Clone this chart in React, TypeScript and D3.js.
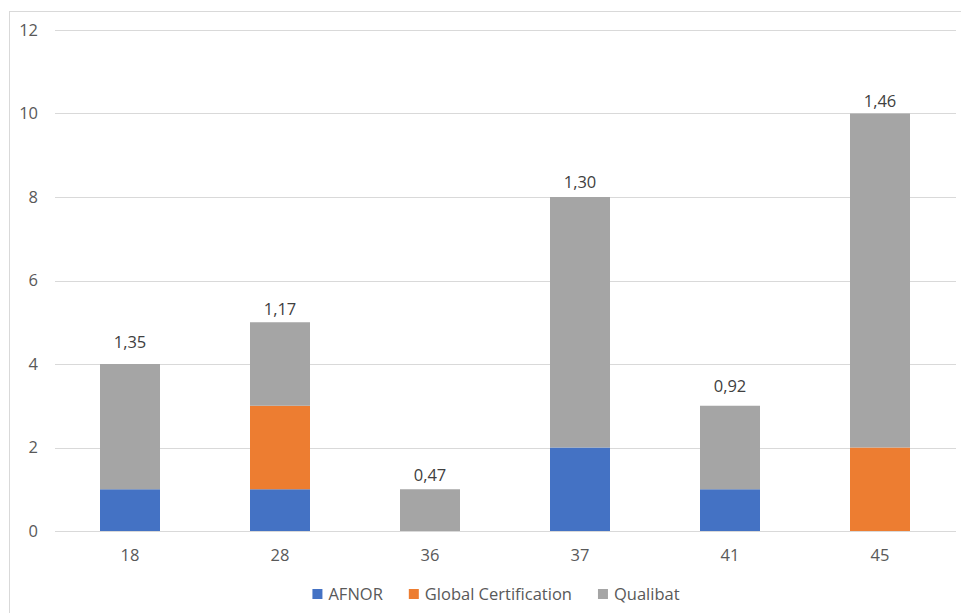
import React, { useEffect, useRef } from 'react';
import * as d3 from 'd3';

const categories: string[] = ['18', '28', '36', '37', '41', '45'];
const afnor: number[] = [1, 1, 0, 2, 1, 0];
const globalCert: number[] = [0, 2, 0, 0, 0, 2];
const qualibat: number[] = [3, 2, 1, 6, 2, 8];
const totalLabels: string[] = ['1,35', '1,17', '0,47', '1,30', '0,92', '1,46'];
// value on the y axis where each total label sits (hidden label series)
const labelLevels: number[] = [4.38, 5.17, 1.2, 8.22, 3.33, 10.16];
const seriesNames: string[] = ['AFNOR', 'Global Certification', 'Qualibat'];
const yTicks: number[] = [0, 2, 4, 6, 8, 10, 12];

const colors: string[] = ['#4472C4', '#ED7D31', '#A5A5A5'];
const width = 961;
const height = 613;
const font = "'Open Sans', sans-serif";
const fontSize = 16.5;

export default function App() {
  const ref = useRef<SVGSVGElement>(null);

  useEffect(() => {
    const svg = d3.select(ref.current);
    svg.selectAll('*').remove();

    // chart border
    svg.append('rect')
      .attr('x', 9.5).attr('y', 11.5)
      .attr('width', width).attr('height', height)
      .attr('fill', 'none').attr('stroke', '#D9D9D9');

    const xScale = d3.scaleBand<string>()
      .domain(categories)
      .range([55, 955])
      .paddingInner(0.6)
      .paddingOuter(0.3);

    const yScale = d3.scaleLinear()
      .domain([0, 12])
      .range([531, 30]);

    // gridlines
    svg.append('g')
      .selectAll('line')
      .data(yTicks)
      .enter()
      .append('line')
      .attr('x1', 55).attr('x2', 956)
      .attr('y1', (d: number) => Math.round(yScale(d)) + 0.5)
      .attr('y2', (d: number) => Math.round(yScale(d)) + 0.5)
      .attr('stroke', '#D9D9D9')
      .attr('stroke-width', 1);

    // y labels
    svg.append('g')
      .selectAll('text')
      .data(yTicks)
      .enter()
      .append('text')
      .attr('x', 38)
      .attr('y', (d: number) => yScale(d))
      .attr('dy', '0.35em')
      .attr('text-anchor', 'end')
      .attr('font-family', font)
      .attr('font-size', fontSize)
      .attr('fill', '#595959')
      .text((d: number) => d);

    // stacked bars
    const table = categories.map((c, i) => ({
      cat: c,
      AFNOR: afnor[i],
      'Global Certification': globalCert[i],
      Qualibat: qualibat[i],
    }));
    const stack = d3.stack<any>().keys(seriesNames)(table);

    svg.append('g')
      .selectAll('g')
      .data(stack)
      .enter()
      .append('g')
      .attr('fill', (d: any, i: number) => colors[i])
      .selectAll('rect')
      .data((d: any) => d.filter((p: any) => p[1] - p[0] > 0))
      .enter()
      .append('rect')
      .attr('x', (d: any) => xScale(d.data.cat) as number)
      .attr('width', xScale.bandwidth())
      .attr('y', (d: any) => yScale(d[1]))
      .attr('height', (d: any) => yScale(d[0]) - yScale(d[1]));

    // total labels
    svg.append('g')
      .selectAll('text')
      .data(categories)
      .enter()
      .append('text')
      .attr('x', (d: string) => (xScale(d) as number) + xScale.bandwidth() / 2)
      .attr('y', (d: string, i: number) => yScale(labelLevels[i]))
      .attr('text-anchor', 'middle')
      .attr('font-family', font)
      .attr('font-size', fontSize)
      .attr('fill', '#404040')
      .text((d: string, i: number) => totalLabels[i]);

    // x labels
    svg.append('g')
      .selectAll('text')
      .data(categories)
      .enter()
      .append('text')
      .attr('x', (d: string) => (xScale(d) as number) + xScale.bandwidth() / 2)
      .attr('y', 561)
      .attr('text-anchor', 'middle')
      .attr('font-family', font)
      .attr('font-size', fontSize)
      .attr('fill', '#595959')
      .text((d: string) => d);

    // legend
    const legend = svg.append('g');
    const items = legend.selectAll('g')
      .data(seriesNames)
      .enter()
      .append('g');
    items.append('rect')
      .attr('width', 10).attr('height', 10)
      .attr('y', 589)
      .attr('fill', (d: string, i: number) => colors[i]);
    items.append('text')
      .attr('x', 16)
      .attr('y', 600)
      .attr('font-family', font)
      .attr('font-size', fontSize)
      .attr('fill', '#595959')
      .text((d: string) => d);

    const widths: number[] = [];
    items.select('text').each(function () {
      widths.push(16 + (this as SVGTextElement).getComputedTextLength());
    });
    const gap = 26;
    const total = d3.sum(widths) + gap * (widths.length - 1);
    let x = 496 - total / 2;
    items.attr('transform', (d: string, i: number) => {
      const t = `translate(${x},0)`;
      x += widths[i] + gap;
      return t;
    });
  }, []);

  return (
    <svg
      ref={ref}
      width={width}
      height={height}
      style={{ position: 'absolute', left: 0, top: 0, background: '#fff' }}
    />
  );
}
